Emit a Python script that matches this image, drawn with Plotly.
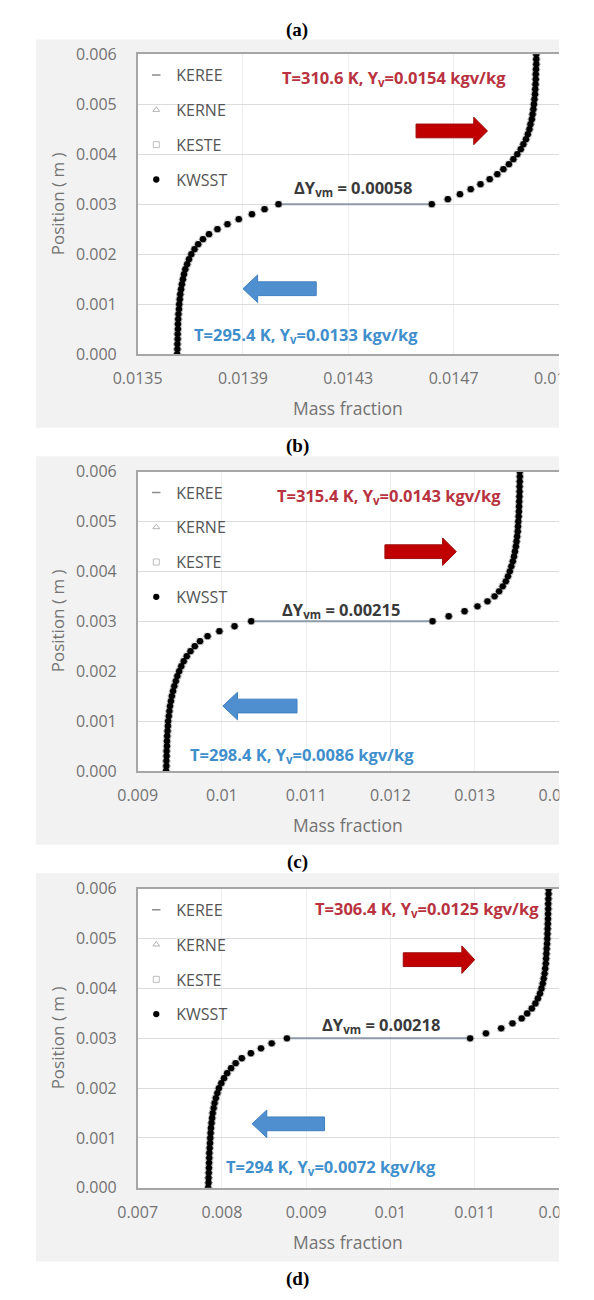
import plotly.graph_objects as go

W, H = 594, 1300

# ---------------- data ----------------
models = ["KEREE", "KERNE", "KESTE", "KWSST"]
panel_letters = ["(a)", "(b)", "(c)", "(d)"]

y_lower = [0.0000, 0.0001, 0.0002, 0.0003, 0.0004, 0.0005, 0.0006, 0.0007, 0.0008, 0.0009,
           0.0010, 0.0011, 0.0012, 0.0013, 0.0014, 0.0015, 0.0016, 0.0017, 0.0018, 0.0019,
           0.0020, 0.0021, 0.0022, 0.0023, 0.0024, 0.0025, 0.0026, 0.0027, 0.0028, 0.0029, 0.0030]
y_upper = [0.0030, 0.0031, 0.0032, 0.0033, 0.0034, 0.0035, 0.0036, 0.0037, 0.0038, 0.0039,
           0.0040, 0.0041, 0.0042, 0.0043, 0.0044, 0.0045, 0.0046, 0.0047, 0.0048, 0.0049,
           0.0050, 0.0051, 0.0052, 0.0053, 0.0054, 0.0055, 0.0056, 0.0057, 0.0058, 0.0059, 0.0060]

a_lower = [0.013650, 0.013651, 0.013651, 0.013652, 0.013652, 0.013653, 0.013653, 0.013654, 0.013655, 0.013657,
           0.013658, 0.013660, 0.013662, 0.013665, 0.013668, 0.013672, 0.013676, 0.013681, 0.013688, 0.013695,
           0.013704, 0.013716, 0.013730, 0.013748, 0.013771, 0.013803, 0.013841, 0.013884, 0.013934, 0.013982, 0.014035]
a_upper = [0.014617, 0.014678, 0.014724, 0.014765, 0.014802, 0.014837, 0.014866, 0.014889, 0.014910, 0.014927,
           0.014942, 0.014955, 0.014965, 0.014975, 0.014982, 0.014988, 0.014992, 0.014997, 0.015000, 0.015003,
           0.015005, 0.015007, 0.015009, 0.015010, 0.015011, 0.015012, 0.015012, 0.015013, 0.015014, 0.015014, 0.015014]

b_lower = [0.009337, 0.009341, 0.009341, 0.009344, 0.009344, 0.009348, 0.009348, 0.009351, 0.009355, 0.009359,
           0.009362, 0.009370, 0.009377, 0.009384, 0.009395, 0.009406, 0.009420, 0.009435, 0.009453, 0.009471,
           0.009493, 0.009518, 0.009547, 0.009583, 0.009627, 0.009678, 0.009740, 0.009830, 0.009970, 0.010150, 0.010348]
b_upper = [0.012500, 0.012692, 0.012880, 0.013033, 0.013152, 0.013236, 0.013290, 0.013333, 0.013370, 0.013395,
           0.013417, 0.013435, 0.013453, 0.013467, 0.013478, 0.013489, 0.013497, 0.013504, 0.013511, 0.013514,
           0.013518, 0.013522, 0.013525, 0.013527, 0.013529, 0.013531, 0.013533, 0.013533, 0.013535, 0.013536, 0.013536]

c_lower = [0.007837, 0.007841, 0.007842, 0.007844, 0.007846, 0.007848, 0.007850, 0.007851, 0.007855, 0.007859,
           0.007862, 0.007866, 0.007870, 0.007877, 0.007884, 0.007891, 0.007902, 0.007913, 0.007928, 0.007946,
           0.007964, 0.007993, 0.008025, 0.008062, 0.008109, 0.008163, 0.008236, 0.008344, 0.008464, 0.008591, 0.008772]
c_upper = [0.010946, 0.011134, 0.011315, 0.011449, 0.011558, 0.011623, 0.011678, 0.011721, 0.011750, 0.011775,
           0.011793, 0.011808, 0.011819, 0.011830, 0.011837, 0.011844, 0.011848, 0.011851, 0.011855, 0.011859,
           0.011862, 0.011864, 0.011866, 0.011868, 0.011870, 0.011871, 0.011873, 0.011873, 0.011875, 0.011877, 0.011877]

x_min = [0.0135, 0.009, 0.007]
x_max = [0.0151, 0.014, 0.012]
x_step = [0.0004, 0.001, 0.001]

hot_labels = ["T=310.6 K, Y<sub>v</sub>=0.0154 kgv/kg",
              "T=315.4 K, Y<sub>v</sub>=0.0143 kgv/kg",
              "T=306.4 K, Y<sub>v</sub>=0.0125 kgv/kg"]
cold_labels = ["T=295.4 K, Y<sub>v</sub>=0.0133 kgv/kg",
               "T=298.4 K, Y<sub>v</sub>=0.0086 kgv/kg",
               "T=294 K, Y<sub>v</sub>=0.0072 kgv/kg"]
delta_labels = ["0.00058", "0.00215", "0.00218"]

lowers = [a_lower, b_lower, c_lower]
uppers = [a_upper, b_upper, c_upper]

# ---------------- layout geometry (pixels) ----------------
PLOT_L, PLOT_R = 123, 583
BOX_L = 12
plot_top = [44, 468.5, 893]
plot_bot = [349, 773, 1197]
box_top = [29, 453, 877]
box_bot = [424, 848, 1272]
letter_y = [19, 442, 866, 1290]
hot_xy = [(403, 68), (398, 493), (439, 913)]
delta_xy = [(358, 180), (345, 609), (389, 1031)]
cold_xy = [(307, 330), (303, 757), (334, 1176)]
red_arrow = [(427, 490, 505, 122), (393, 456, 471, 550), (413, 477, 491, 965)]
blue_arrow = [(318, 254, 238, 282.5), (297, 232, 216, 707), (327, 264, 248, 1132)]


def px(x):
    return x / W


def py(y):
    return 1 - y / H


def arrow_path(tail, base, tip, cy, bh=7, hh=14):
    pts = [(tail, cy - bh), (base, cy - bh), (base, cy - hh), (tip, cy),
           (base, cy + hh), (base, cy + bh), (tail, cy + bh)]
    return "M " + " L ".join(f"{px(x):.5f},{py(y):.5f}" for x, y in pts) + " Z"


FAM = "Open Sans, Lato, sans-serif"
TICK_FONT = dict(family=FAM, size=16, color="#737373")
LEG_FONT = dict(family=FAM, size=16, color="#555555")

fig = go.Figure()
shapes = []
annotations = []

marker_styles = {
    "KEREE": dict(symbol="line-ew", size=6, color="#8c8c8c", line=dict(width=1.5, color="#8c8c8c")),
    "KERNE": dict(symbol="triangle-up-open", size=6, color="#b3b3b3", line=dict(width=1, color="#b3b3b3")),
    "KESTE": dict(symbol="square-open", size=6, color="#bdbdbd", line=dict(width=1, color="#bdbdbd")),
    "KWSST": dict(symbol="circle", size=6.3, color="#000000", line=dict(width=0)),
}

for i in range(3):
    sfx = "" if i == 0 else str(i + 1)
    xa, ya = "x" + sfx, "y" + sfx
    leg = "legend" + sfx
    lo, up = lowers[i], uppers[i]

    # panel background and white plot area
    shapes.append(dict(type="rect", xref="paper", yref="paper", layer="below",
                       x0=px(BOX_L), x1=px(PLOT_R), y0=py(box_bot[i]), y1=py(box_top[i]),
                       fillcolor="#f2f2f2", line=dict(width=0)))
    shapes.append(dict(type="rect", xref="paper", yref="paper", layer="below",
                       x0=px(PLOT_L), x1=px(PLOT_R), y0=py(plot_bot[i]), y1=py(plot_top[i]),
                       fillcolor="#ffffff", line=dict(width=0)))

    # connector line across the interface
    fig.add_trace(go.Scatter(x=[lo[-1], up[0]], y=[y_lower[-1], y_upper[0]], mode="lines",
                             line=dict(color="#8d9aab", width=2), showlegend=False,
                             xaxis=xa, yaxis=ya, hoverinfo="skip"))
    for m in models:
        fig.add_trace(go.Scatter(x=lo + up, y=y_lower + y_upper, mode="markers", name=m,
                                 marker=marker_styles[m], xaxis=xa, yaxis=ya,
                                 legend=leg, legendgroup=f"{i}-{m}"))

    ydom = [py(plot_bot[i]), py(plot_top[i])]
    fig.update_layout(**{
        "xaxis" + sfx: dict(domain=[px(PLOT_L), px(PLOT_R)], anchor=ya,
                            range=[x_min[i], x_max[i] + 1e-9], tick0=x_min[i], dtick=x_step[i],
                            showline=True, linecolor="#a6a6a6", linewidth=1.5, mirror=True,
                            showgrid=True, gridcolor="#efefef", gridwidth=1, zeroline=False,
                            ticks="", ticklabelstandoff=9, ticklabeloverflow="allow",
                            tickfont=TICK_FONT, fixedrange=True),
        "yaxis" + sfx: dict(domain=ydom, anchor=xa, range=[0, 0.006], dtick=0.001, tickformat=".3f",
                            showline=True, linecolor="#a6a6a6", linewidth=1.5, mirror=False,
                            showgrid=True, gridcolor="#dcdcdc", gridwidth=1, zeroline=False,
                            ticks="", ticklabelstandoff=16, tickfont=TICK_FONT, fixedrange=True),
        leg: dict(x=px(121.5), y=py(plot_top[i] + 4), xanchor="left", yanchor="top",
                  bgcolor="rgba(0,0,0,0)", font=LEG_FONT, traceorder="grouped",
                  tracegroupgap=11, itemclick=False),
    })

    # arrows
    t, b, tp, cy = red_arrow[i]
    shapes.append(dict(type="path", xref="paper", yref="paper", layer="above",
                       path=arrow_path(t, b, tp, cy), fillcolor="#c00000",
                       line=dict(color="#9e0a0a", width=1)))
    t, b, tp, cy = blue_arrow[i]
    shapes.append(dict(type="path", xref="paper", yref="paper", layer="above",
                       path=arrow_path(t, b, tp, cy), fillcolor="#4f8fd0",
                       line=dict(color="#3f7fbf", width=1)))

    # texts
    annotations.append(dict(text=f"<b>{hot_labels[i]}</b>", xref="paper", yref="paper",
                            x=px(hot_xy[i][0]), y=py(hot_xy[i][1]), showarrow=False,
                            xanchor="center", yanchor="middle",
                            font=dict(family=FAM, size=16.5, color="#b83240")))
    annotations.append(dict(text=f"<b>ΔY<sub>vm</sub> = {delta_labels[i]}</b>", xref="paper", yref="paper",
                            x=px(delta_xy[i][0]), y=py(delta_xy[i][1]), showarrow=False,
                            xanchor="center", yanchor="middle",
                            font=dict(family=FAM, size=16.5, color="#3a3a3a")))
    annotations.append(dict(text=f"<b>{cold_labels[i]}</b>", xref="paper", yref="paper",
                            x=px(cold_xy[i][0]), y=py(cold_xy[i][1]), showarrow=False,
                            xanchor="center", yanchor="middle",
                            font=dict(family=FAM, size=16.5, color="#3f8fcc")))
    # axis titles
    annotations.append(dict(text="Position ( m )", xref="paper", yref="paper", textangle=-90,
                            x=px(35), y=py((plot_top[i] + plot_bot[i]) / 2), showarrow=False,
                            xanchor="center", yanchor="middle",
                            font=dict(family=FAM, size=17, color="#737373")))
    annotations.append(dict(text="Mass fraction", xref="paper", yref="paper",
                            x=px((PLOT_L + PLOT_R) / 2), y=py(plot_bot[i] + 55), showarrow=False,
                            xanchor="center", yanchor="middle",
                            font=dict(family=FAM, size=17.5, color="#737373")))

# panel letters
for k, lab in enumerate(panel_letters):
    annotations.append(dict(text=f"<b>{lab}</b>", xref="paper", yref="paper",
                            x=0.5, y=py(letter_y[k]), showarrow=False,
                            xanchor="center", yanchor="middle",
                            font=dict(family="Liberation Serif, serif", size=19, color="#000000")))

# white strip on the right: the chart images are cut there
shapes.append(dict(type="rect", xref="paper", yref="paper", layer="above",
                   x0=px(PLOT_R + 0.5), x1=px(720), y0=0, y1=1,
                   fillcolor="#ffffff", line=dict(width=0)))

fig.update_layout(width=W, height=H, margin=dict(l=0, r=0, t=0, b=0),
                  paper_bgcolor="#ffffff", plot_bgcolor="rgba(0,0,0,0)",
                  shapes=shapes, annotations=annotations, showlegend=True)

fig.write_html("out.html")
